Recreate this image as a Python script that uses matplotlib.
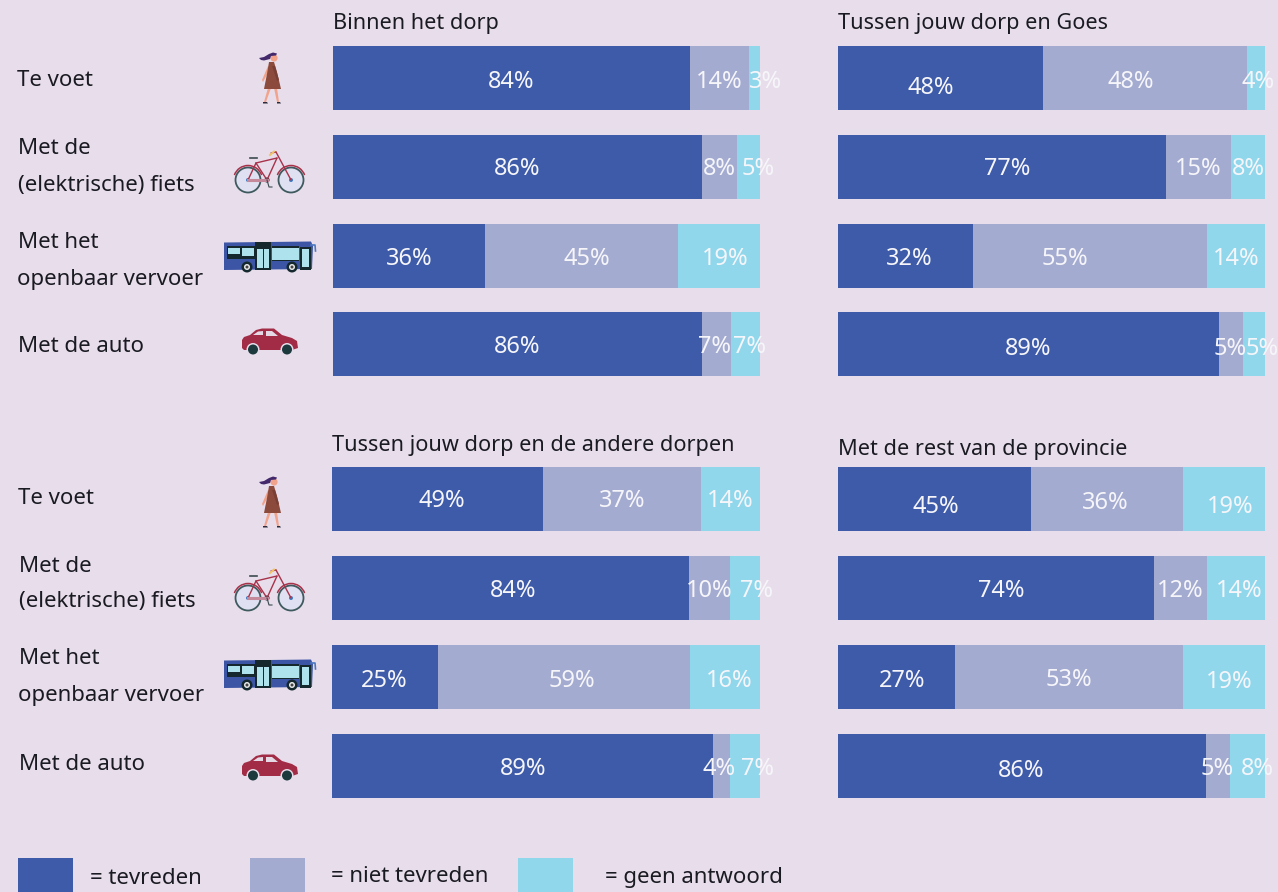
import matplotlib
matplotlib.use("Agg")
import matplotlib.pyplot as plt
from matplotlib.patches import Rectangle, Polygon, Circle, Arc
from matplotlib.transforms import Affine2D

W, H = 1278, 892
BG = "#E8DEEB"
INK = "#1A1A22"
C_BLUE, C_MID, C_LIGHT = "#3E5BA9", "#A4ABD0", "#90D7EC"
FAM = ["Noto Sans", "DejaVu Sans"]

titles = ["Binnen het dorp", "Tussen jouw dorp en Goes",
          "Tussen jouw dorp en de andere dorpen", "Met de rest van de provincie"]
legend_names = ["= tevreden", "= niet tevreden", "= geen antwoord"]

# bar lengths (percent of bar)
tevreden = [[83.6, 86.4, 35.6, 86.4], [48.0, 76.8, 31.6, 89.2],
            [49.3, 83.4, 24.8, 89.0], [45.2, 74.0, 27.4, 86.2]]
niet_tevreden = [[13.8, 8.2, 45.2, 6.8], [47.8, 15.2, 54.8, 5.6],
                 [36.9, 9.6, 58.9, 4.0], [35.6, 12.4, 53.4, 5.6]]
geen_antwoord = [[2.6, 5.4, 19.2, 7.0], [4.2, 8.2, 13.8, 5.4],
                 [13.8, 7.0, 16.4, 7.0], [19.2, 13.6, 19.2, 8.2]]

# printed labels
lab_tevreden = [[84, 86, 36, 86], [48, 77, 32, 89], [49, 84, 25, 89], [45, 74, 27, 86]]
lab_niet = [[14, 8, 45, 7], [48, 15, 55, 5], [37, 10, 59, 4], [36, 12, 53, 5]]
lab_geen = [[3, 5, 19, 7], [4, 8, 14, 5], [14, 7, 16, 7], [19, 14, 19, 8]]

# label placement relative to the segment centre, in pixels (panel, row, segment)
label_dx = [[[0, 0, 11], [0, 0, 10], [0, 5, 6], [0, -2, 4]],
            [[-9, -14, 2], [6, 0, 0], [4, -25, 0], [0, -1, 8]],
            [[4, 0, 0], [3, 0, 11], [-1, 8, 4], [1, -2, 12]],
            [[2, -2, 6], [6, 0, 3], [6, 0, 5], [-1, -1, 10]]]
label_dy = [[[2, 2, 2], [0, 0, 0], [1, 1, 1], [1, 1, 1]],
            [[8, 2, 2], [0, 0, 0], [1, 1, 1], [3, 3, 3]],
            [[0, 0, 0], [1, 1, 1], [2, 2, 2], [1, 1, 1]],
            [[6, 2, 6], [1, 1, 1], [2, 1, 3], [3, 1, 1]]]

# panel frames in pixels: left, right, first row centre
frames = [(333, 760, 78), (837.5, 1265, 78), (332, 760, 499.2), (837.5, 1265, 499.2)]
STEP = 88.8
BAR_PX = 64

fig = plt.figure(figsize=(W / 100, H / 100), dpi=100, facecolor=BG)


def draw_panel(i):
    left, right, c0 = frames[i]
    top = c0 - STEP / 2
    bottom = c0 + 3 * STEP + STEP / 2
    ax = fig.add_axes([left / W, 1 - bottom / H, (right - left) / W, (bottom - top) / H])
    ax.set_xlim(0, 100)
    ax.set_ylim(3.5, -0.5)
    ax.axis("off")
    rows = range(4)
    starts = [0, 0, 0, 0]
    for seg, (vals, labs, col) in enumerate(zip(
            (tevreden[i], niet_tevreden[i], geen_antwoord[i]),
            (lab_tevreden[i], lab_niet[i], lab_geen[i]),
            (C_BLUE, C_MID, C_LIGHT))):
        ax.barh(list(rows), vals, left=starts, height=BAR_PX / STEP, color=col, linewidth=0, zorder=2)
        for r in rows:
            ax.annotate(f"{labs[r]}%", (starts[r] + vals[r] / 2, r),
                        xytext=(label_dx[i][r][seg], -label_dy[i][r][seg] - 2),
                        textcoords="offset pixels", ha="center", va="center",
                        color="#F6F6FA", fontsize=17, family=FAM, fontweight="light",
                        annotation_clip=False, zorder=5)
        starts = [s + v for s, v in zip(starts, vals)]


for p in range(4):
    draw_panel(p)

# overlay in pixel space for the texts, the legend and the pictograms
ov = fig.add_axes([0, 0, 1, 1], zorder=10)
ov.set_xlim(0, W)
ov.set_ylim(H, 0)
ov.axis("off")
ov.patch.set_alpha(0)


def txt(x, y, s, size=16):
    ov.text(x, y + 3, s, ha="left", va="center", color=INK, fontsize=size, family=FAM)


for (x, y), s in zip([(333, 22), (838, 22), (332, 444), (838, 447)], titles):
    txt(x, y - 1, s, size=15.6)

row_texts = [(79, "Te voet", 17), (146, "Met de", 18), (183, "(elektrische) fiets", 18),
             (240, "Met het", 18), (277, "openbaar vervoer", 17), (345, "Met de auto", 18)]
for y, s, x in row_texts:
    txt(x, y - 1, s)
row_texts2 = [(496, "Te voet", 18), (564, "Met de", 19), (600, "(elektrische) fiets", 19),
              (657, "Met het", 19), (694, "openbaar vervoer", 18), (763, "Met de auto", 19)]
for y, s, x in row_texts2:
    txt(x, y - 1, s)

for (x0, x1), col in zip([(18, 73), (250, 305), (518, 573)], (C_BLUE, C_MID, C_LIGHT)):
    ov.add_patch(Rectangle((x0, 858), x1 - x0, 40, fc=col, lw=0))
for (x, y), s in zip([(90, 877), (331, 875), (605, 875)], legend_names):
    txt(x, y - 1, s)


def person(dy):
    skin, dress, hair, shoe = "#F2A38C", "#8B4A3C", "#43296B", "#2B2B3A"
    tr = Affine2D().translate(0, dy) + ov.transData
    parts = [
        Polygon([(268, 88), (271, 88), (266, 102), (264, 102)], fc=skin, lw=0),
        Polygon([(274, 88), (277, 88), (279, 102), (277, 102)], fc=skin, lw=0),
        Polygon([(268, 66), (262, 80), (263, 82), (271, 68)], fc=skin, lw=0),
        Polygon([(269, 62), (274, 62), (277, 72), (281, 89), (264, 89), (267, 74)], fc=dress, lw=0),
        Polygon([(272, 66), (275, 66), (279, 80), (277, 81)], fc="#7A3F34", lw=0),
        Circle((274, 58), 3.6, fc=skin, lw=0),
        Polygon([(259, 58), (264, 57), (269, 54), (273, 52.5), (277, 53.5), (276, 55.5), (271, 56),
                 (270, 59), (264, 60.5), (261, 60)], fc=hair, lw=0),
        Polygon([(263, 102), (267, 102), (268, 103.5), (263, 103.5)], fc=shoe, lw=0),
        Polygon([(277, 102), (280, 102), (281, 103.5), (277, 103.5)], fc=shoe, lw=0),
    ]
    for a in parts:
        a.set_transform(tr)
        ov.add_patch(a)


def bike(dy):
    red, tyre = "#A8324A", "#3F5A5E"
    tr = Affine2D().translate(0, dy) + ov.transData
    for cx in (248, 291):
        for a in (Circle((cx, 180), 12.5, fc="#DFE0F1", ec=tyre, lw=1.3),
                  Circle((cx, 180), 2, fc="#3E7CC4", lw=0),
                  Arc((cx, 180), 29, 29, theta1=200, theta2=340, ec=red, lw=1.1)):
            a.set_transform(tr)
            ov.add_patch(a)
    frame = [((248, 180), (256, 163)), ((256, 163), (267, 180)),
             ((256, 163), (277, 158)), ((267, 180), (277, 158)), ((291, 180), (276, 152)),
             ((276, 152), (271, 153))]
    for (a, b) in frame:
        ov.plot([a[0], b[0]], [a[1] + dy, b[1] + dy], color=red, lw=1.0, solid_capstyle="round")
    ov.plot([250, 257], [158 + dy, 158 + dy], color="#3A4A50", lw=1.2)
    ov.plot([248, 267], [180 + dy, 180 + dy], color="#C48A9C", lw=2.2)
    ov.plot([270, 274], [155 + dy, 151.5 + dy], color="#EFC36A", lw=1.4)
    ov.plot([267, 269, 272], [180 + dy, 187 + dy, 187 + dy], color="#3A4A50", lw=0.8)
    ov.add_patch(Circle((267, 180 + dy), 2.6, fc="#2C3F45", lw=0))


def bus(dy):
    blue, glass, dark = "#3D55A5", "#AEE3EE", "#14282E"

    def R(x, y, w, h, c):
        ov.add_patch(Rectangle((x, y + dy), w, h, fc=c, lw=0))
    ov.add_patch(Polygon([(224, 242.5 + dy), (311, 241.5 + dy), (313, 246 + dy), (312, 269 + dy), (224, 270 + dy)], fc=blue, lw=0))
    R(226.5, 246, 28, 13, dark)
    R(227.5, 247.5, 12.5, 6.5, glass)
    R(241.5, 247.5, 12.5, 8, glass)
    R(255, 242, 16, 28, dark)
    R(257, 249, 5.5, 19, glass)
    R(263.5, 249, 5.5, 19, glass)
    R(272, 245.5, 27, 15, dark)
    R(272, 248, 26.5, 12, glass)
    R(300, 246.5, 10.5, 23, dark)
    R(301.5, 249, 7.5, 18, glass)
    ov.plot([311, 315, 315.5], [245 + dy, 245 + dy, 251 + dy], color="#4C78C0", lw=1.2)
    for cx in (247, 292):
        ov.add_patch(Circle((cx, 267 + dy), 5.5, fc=dark, lw=0))
        ov.add_patch(Circle((cx, 267 + dy), 3, fc="#E8E8E8", lw=0))
        ov.add_patch(Circle((cx, 267 + dy), 1.5, fc="#444444", lw=0))


def car(dy):
    red, dark, win = "#A22C46", "#1C3A3E", "#E6D9E6"
    tr = Affine2D().translate(0, dy) + ov.transData
    ov.add_patch(Polygon([(242, 340), (244, 337), (250, 335), (256, 330), (262, 328.5), (274, 328.5),
                          (282, 335), (292, 338), (297, 341), (298, 348), (292, 350), (244, 350), (242, 348)],
                         fc=red, lw=0, transform=tr))
    ov.add_patch(Polygon([(253, 335), (258, 331.5), (263, 331), (263, 335)], fc=win, lw=0, transform=tr))
    ov.add_patch(Polygon([(266, 331), (272, 331), (278, 336), (266, 336)], fc=win, lw=0, transform=tr))
    for cx in (253, 287):
        ov.add_patch(Circle((cx, 349.5 + dy), 6.5, fc=BG, lw=0))
        ov.add_patch(Circle((cx, 349.5 + dy), 5, fc=dark, lw=0))


person(0)
person(424)
bike(0)
bike(418)
bus(0)
bus(418)
car(0)
car(426)
ov.set_xlim(0, W)
ov.set_ylim(H, 0)

fig.savefig("out.png", dpi=100, facecolor=BG)
